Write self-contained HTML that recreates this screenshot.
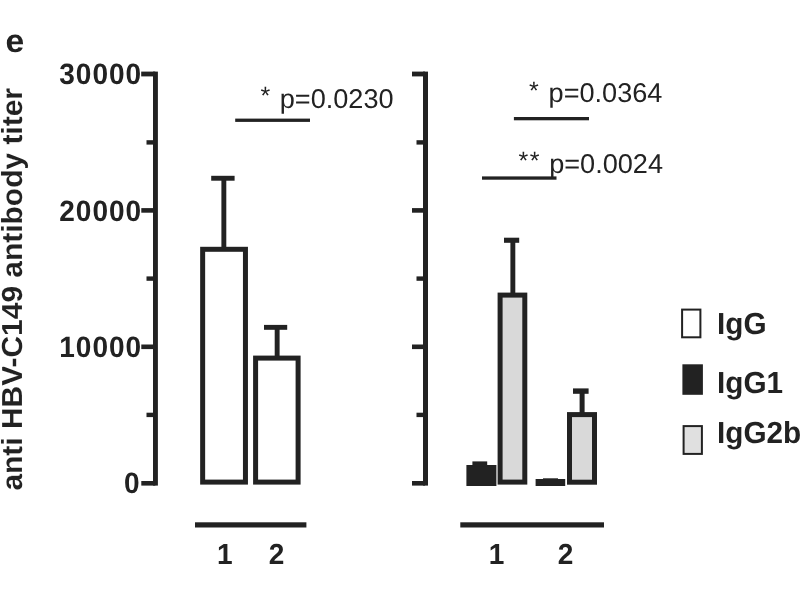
<!DOCTYPE html>
<html lang="en">
<head>
<meta charset="utf-8">
<title>anti HBV-C149 antibody titer</title>
<style>
html,body{margin:0;padding:0;background:#fff;}
body{width:800px;height:600px;overflow:hidden;}
svg{display:block;}
text{font-family:"Liberation Sans",sans-serif;fill:#222;text-rendering:geometricPrecision;}
.b{font-weight:bold;font-size:29.7px;}
.t{stroke:#fff;stroke-width:0.1px;paint-order:fill stroke;}
.d{font-size:29.5px;letter-spacing:1px;}
.r{font-size:27.1px;}
.a{font-size:25px;letter-spacing:0.5px;}
.k{fill:#222;}
</style>
</head>
<body>
<svg width="800" height="600" viewBox="0 0 800 600">
<rect width="800" height="600" fill="#fff"/>

<!-- panel label -->
<text class="b" style="font-size:32.4px" transform="translate(5.5,52.4) scale(1.04,1)">e</text>

<!-- y axis title -->
<text class="b t" style="font-size:29.95px" transform="translate(22.3,490.6) rotate(-90) scale(1,0.97)">anti HBV-C149 antibody titer</text>

<!-- left axis -->
<g class="k">
<rect x="153" y="71.6" width="4.9" height="414"/>
<rect x="141.2" y="71.6" width="14" height="4.8"/>
<rect x="141.3" y="208.1" width="14" height="4.6"/>
<rect x="141.3" y="344.5" width="14" height="4.6"/>
<rect x="141.3" y="481" width="14" height="4.6"/>
<rect x="146.5" y="140.2" width="8" height="4.4"/>
<rect x="146.5" y="276.4" width="8" height="4.4"/>
<rect x="146.5" y="412.7" width="8" height="4.4"/>
</g>
<text class="b d" transform="translate(142.0,84) scale(0.95,1)" text-anchor="end">30000</text>
<text class="b d" transform="translate(142.0,221) scale(0.95,1)" text-anchor="end">20000</text>
<text class="b d" transform="translate(142.0,357) scale(0.95,1)" text-anchor="end">10000</text>
<text class="b d" transform="translate(140.6,493.4) scale(0.95,1)" text-anchor="end">0</text>

<!-- left bars -->
<g fill="#fff" stroke="#222" stroke-width="5">
<rect x="202.65" y="249.3" width="42.8" height="232.8"/>
<rect x="255.6" y="358.1" width="42.5" height="124"/>
</g>
<g class="k">
<rect x="221.4" y="178" width="4.9" height="69"/>
<rect x="211.2" y="175.8" width="23.4" height="4.9"/>
<rect x="274.7" y="327" width="4.9" height="29"/>
<rect x="264" y="324.9" width="23.2" height="4.9"/>
<rect x="195" y="522.3" width="111.4" height="5.2"/>
</g>
<text class="b d" transform="translate(225.2,564) scale(0.95,0.985)" text-anchor="middle">1</text>
<text class="b d" transform="translate(277,564) scale(0.95,0.985)" text-anchor="middle">2</text>

<!-- left significance -->
<rect class="k" x="235.2" y="118.6" width="74.8" height="3.3"/>
<text class="r a" x="260.5" y="104.1">*</text><text class="r" x="279.8" y="107.9">p=0.0230</text>

<!-- right axis -->
<g class="k">
<rect x="423" y="71.6" width="5" height="414"/>
<rect x="412" y="71.6" width="13" height="4.8"/>
<rect x="412" y="208.1" width="13" height="4.6"/>
<rect x="412" y="344.5" width="13" height="4.6"/>
<rect x="412" y="481" width="13" height="4.6"/>
<rect x="416.5" y="140.2" width="8" height="4.4"/>
<rect x="416.5" y="276.4" width="8" height="4.4"/>
<rect x="416.5" y="412.7" width="8" height="4.4"/>
</g>

<!-- right bars -->
<g class="k">
<rect x="466.4" y="465" width="30" height="21"/>
<rect x="472.4" y="461.4" width="14.8" height="5"/>
<rect x="535.6" y="479" width="29.6" height="7"/>
<rect x="543" y="478.3" width="15" height="1.2"/>
</g>
<g fill="#d9d9d9" stroke="#222" stroke-width="5">
<rect x="500.1" y="295.1" width="24.7" height="187"/>
<rect x="569.5" y="414.6" width="25" height="67.6"/>
</g>
<g class="k">
<rect x="510.4" y="240" width="4.9" height="53"/>
<rect x="504" y="237.7" width="15.2" height="5.1"/>
<rect x="579.6" y="391" width="5" height="22"/>
<rect x="573" y="388.4" width="15.6" height="5.4"/>
<rect x="460.3" y="522.3" width="143.7" height="5.2"/>
</g>
<text class="b d" transform="translate(497,564) scale(0.95,0.985)" text-anchor="middle">1</text>
<text class="b d" transform="translate(566,564) scale(0.95,0.985)" text-anchor="middle">2</text>

<!-- right significance -->
<rect class="k" x="513.9" y="117" width="75.1" height="3.3"/>
<text class="r a" x="529" y="98.8">*</text><text class="r" x="548.6" y="102.4">p=0.0364</text>
<rect class="k" x="482" y="176.4" width="74.5" height="3.3"/>
<text class="r a" x="518.6" y="169" style="letter-spacing:1.4px">**</text><text class="r" x="549.2" y="172.9">p=0.0024</text>

<!-- legend -->
<rect x="682.1" y="309.6" width="18.3" height="27.7" fill="#fff" stroke="#222" stroke-width="2"/>
<rect x="682.4" y="364.3" width="20.5" height="30.5" class="k"/>
<rect x="683.6" y="426.1" width="18.3" height="27.8" fill="#e0e0e0" stroke="#222" stroke-width="2"/>
<text class="b" transform="translate(717.1,334) scale(1,1.025)">IgG</text>
<text class="b" transform="translate(717.1,393) scale(1,1.025)">IgG1</text>
<text class="b" transform="translate(717.1,443) scale(1,1.025)">IgG2b</text>
</svg>
</body>
</html>
